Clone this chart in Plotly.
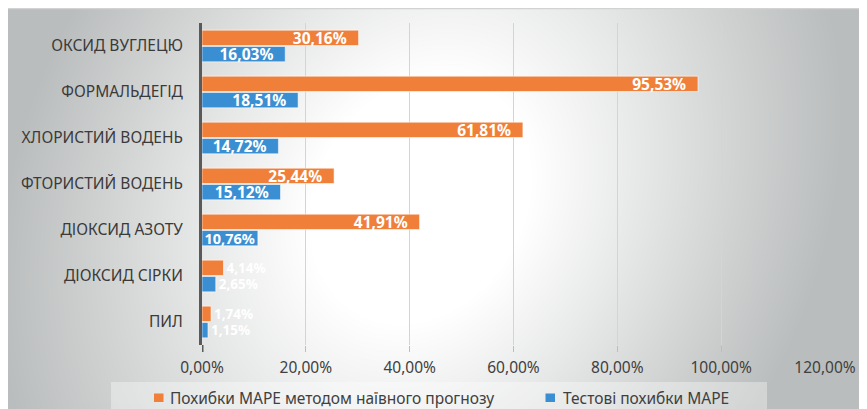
import base64, struct, zlib
import numpy as np
import plotly.graph_objects as go

# ---- data ----
categories = ["ОКСИД ВУГЛЕЦЮ", "ФОРМАЛЬДЕГІД", "ХЛОРИСТИЙ ВОДЕНЬ", "ФТОРИСТИЙ ВОДЕНЬ",
              "ДІОКСИД АЗОТУ", "ДІОКСИД СІРКИ", "ПИЛ"]
naive_mape = [30.16, 95.53, 61.81, 25.44, 41.91, 4.14, 1.74]
test_mape = [16.03, 18.51, 14.72, 15.12, 10.76, 2.65, 1.15]
naive_name = "Похибки MAPE методом наївного прогнозу"
test_name = "Тестові похибки MAPE"
x_ticks = [0, 20, 40, 60, 80, 100, 120]
x_ticktext = [f"{v:.2f}".replace(".", ",") + "%" for v in x_ticks]

# page is offset by the body margin of the html page
OFF = 8
PAGE_W, PAGE_H = 867, 409
FW, FH = PAGE_W - OFF, PAGE_H - OFF
# plot area in page pixels: x 202..825, y 23..345
L, R, T, B = 202 - OFF, PAGE_W - 825, 23 - OFF, PAGE_H - 345
PW, PH = FW - L - R, FH - T - B
X_MAX = 120
PX_PER_UNIT = PW / X_MAX

ORANGE = "#F07F3A"
BLUE = "#3A8FD2"

def px(xp):
    return (xp - OFF - L) / PW

def py(yp):
    return (FH - B - (yp - OFF)) / PH

# ---- gradient background as PNG ----
def make_png(arr):
    h, w, _ = arr.shape
    raw = b"".join(b"\x00" + arr[y].tobytes() for y in range(h))
    def chunk(tag, data):
        c = struct.pack(">I", len(data)) + tag + data
        return c + struct.pack(">I", zlib.crc32(tag + data) & 0xffffffff)
    return (b"\x89PNG\r\n\x1a\n" + chunk(b"IHDR", struct.pack(">IIBBBBB", w, h, 8, 2, 0, 0, 0))
            + chunk(b"IDAT", zlib.compress(raw, 9)) + chunk(b"IEND", b""))

yy, xx = np.mgrid[0:FH, 0:FW].astype(float)
yy += OFF
xx += OFF
cx, cy = 420.0, 200.0
pdir = (0.869, 0.495)     # across the light band
qdir = (-0.495, 0.869)    # along the light band
dp = (xx - cx) * pdir[0] + (yy - cy) * pdir[1]
dq = (xx - cx) * qdir[0] + (yy - cy) * qdir[1]
d = np.sqrt((dp / 420.0) ** 2 + (dq / 520.0) ** 2)
t = np.clip((d - 0.25) / 0.7, 0, 1)
white = np.array([255, 255, 255], float)
gray = np.array([186, 189, 189], float)
img = (white[None, None, :] * (1 - t[..., None]) + gray[None, None, :] * t[..., None]).astype(np.uint8)
src = "data:image/png;base64," + base64.b64encode(make_png(img)).decode()

LABEL_W = 54  # approx. width of a data label in px

def positions(vals):
    return ["inside" if v * PX_PER_UNIT > 30 else "outside" for v in vals]

def templates(vals):
    # inside-end labels sit ~12px in from the bar end, like the original
    return ["%{x:.2f}%\u2007" if v * PX_PER_UNIT > LABEL_W + 14 else "%{x:.2f}%" for v in vals]

def label_sizes(vals):
    out = []
    for v in vals:
        w = v * PX_PER_UNIT
        out.append(15.5 if w > LABEL_W + 14 else (14.5 if w > 30 else 13.5))
    return out

fig = go.Figure()
for name, vals, color in [(naive_name, naive_mape, ORANGE), (test_name, test_mape, BLUE)]:
    fig.add_trace(go.Bar(
        y=categories, x=vals, orientation="h", name=name,
        marker=dict(color=color, line=dict(color="rgba(255,255,255,0.55)", width=1)),
        texttemplate=templates(vals), textposition=positions(vals),
        insidetextanchor="end", textangle=0, constraintext="none",
        textfont=dict(family="Noto Sans", size=label_sizes(vals), color="white", weight="bold"),
        hoverinfo="skip",
    ))

fig.update_layout(
    width=FW, height=FH,
    margin=dict(l=L, r=R, t=T, b=B, pad=0, autoexpand=False),
    paper_bgcolor="white", plot_bgcolor="rgba(0,0,0,0)",
    barmode="group", bargap=0.29, bargroupgap=0.06,
    separators=", ",
    showlegend=False,
    font=dict(family="Noto Sans", color="#404040"),
    xaxis=dict(range=[0, X_MAX], tickvals=x_ticks, ticktext=x_ticktext, automargin=False,
               showgrid=True, gridcolor="#d4d4d4", gridwidth=1, zeroline=False,
               ticks="outside", ticklen=6, tickcolor="#bdbdbd", tickwidth=1,
               tickfont=dict(size=15.5, color="#404040"), ticklabelstandoff=2,
               fixedrange=True),
    yaxis=dict(categoryorder="array", categoryarray=categories, autorange="reversed",
               automargin=False,
               showline=True, linecolor="#5a5a5a", linewidth=3, showgrid=False,
               ticks="", tickfont=dict(size=15.5, color="#3a3a3a"), ticklabelstandoff=13,
               fixedrange=True),
    images=[dict(source=src, xref="paper", yref="paper",
                 x=px(OFF), y=py(OFF), sizex=FW / PW, sizey=FH / PH, sizing="stretch",
                 xanchor="left", yanchor="top", layer="below")],
)

shapes = [
    dict(type="line", xref="paper", yref="paper", x0=px(OFF), x1=px(PAGE_W + 2),
         y0=py(OFF + 0.5), y1=py(OFF + 0.5), line=dict(color="#d2d2d2", width=1.5)),
    # legend background
    dict(type="rect", xref="paper", yref="paper", x0=px(111), x1=px(767),
         y0=py(382), y1=py(PAGE_H + 2), line=dict(width=0),
         fillcolor="rgba(255,255,255,0.35)", layer="below"),
    # legend swatches
    dict(type="rect", xref="paper", yref="paper", x0=px(154), x1=px(163.5),
         y0=py(393.5), y1=py(402), line=dict(width=0), fillcolor=ORANGE),
    dict(type="rect", xref="paper", yref="paper", x0=px(545.5), x1=px(555),
         y0=py(393.5), y1=py(402), line=dict(width=0), fillcolor=BLUE),
    # dark extension of value axis line at 0
    dict(type="line", xref="x", yref="paper", x0=0, x1=0, y0=py(345), y1=py(352),
         line=dict(color="#5a5a5a", width=3)),
]
fig.update_layout(shapes=shapes)

fig.add_annotation(text=naive_name, xref="paper", yref="paper", x=px(168),
                   y=py(397.5), xanchor="left", yanchor="middle", showarrow=False,
                   font=dict(size=15.5, color="#404040"))
fig.add_annotation(text=test_name, xref="paper", yref="paper", x=px(561),
                   y=py(397.5), xanchor="left", yanchor="middle", showarrow=False,
                   font=dict(size=15.5, color="#404040"))

fig.write_html("out.html", config={"displayModeBar": False})
